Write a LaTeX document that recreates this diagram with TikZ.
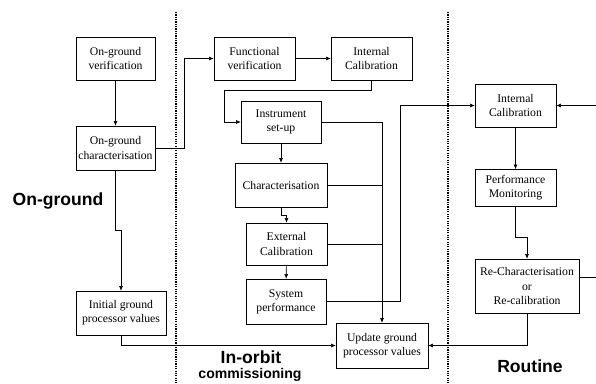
\documentclass[tikz,border=0pt]{standalone}
\usepackage{fontspec}
\setmainfont{Liberation Serif}
\newfontfamily\headfont{Liberation Sans}
\usetikzlibrary{arrows.meta}

\begin{document}
\begin{tikzpicture}[x=0.03cm,y=-0.03cm,
        box/.style={draw,line width=0.5pt,align=center,inner sep=1pt,
            font=\fontsize{10}{12}\selectfont,
            minimum width=2.43cm,minimum height=1.29cm},
        link/.style={line width=0.5pt,-{Latex[length=4pt,width=3.5pt]}},
        wire/.style={line width=0.5pt},
        phase/.style={font=\headfont\bfseries\fontsize{15}{18}\selectfont},
        divider/.style={line width=1pt,densely dotted}]
            \useasboundingbox (0,0) rectangle (596,383);

            %phase dividers
            \draw[divider] (176,12) -- (176,383);
            \draw[divider] (448,12) -- (448,383);

            %on-ground
            \node[box,minimum width=2.37cm] (ogv) at (115.5,58.5) {On-ground\\verification};
            \node[box,minimum width=2.37cm,minimum height=1.32cm] (ogc) at (115.5,148) {On-ground\\characterisation};
            \node[box,minimum width=2.7cm,minimum height=1.32cm] (igp) at (121,313) {Initial ground\\processor values};

            %in-orbit commissioning
            \node[box] (fv) at (254.5,58.5) {Functional\\verification};
            \node[box] (ic1) at (371.5,58.5) {Internal\\Calibration};
            \node[box,minimum width=2.4cm,minimum height=1.26cm] (isu) at (281,122) {Instrument\\set-up};
            \node[box,minimum width=2.76cm,minimum height=1.32cm] (chr) at (281,185) {Characterisation};
            \node[box,minimum height=1.26cm] (ext) at (286.5,244) {External\\Calibration};
            \node[box,minimum width=2.4cm,minimum height=1.35cm] (sys) at (286,301.5) {System\\performance};
            \node[box,minimum width=2.76cm,minimum height=1.35cm] (upd) at (382,345.5) {Update ground\\processor values};

            %routine
            \node[box] (ic2) at (515.5,105.5) {Internal\\Calibration};
            \node[box,minimum height=1.11cm] (pm) at (515.5,188) {Performance\\Monitoring};
            \node[box,minimum width=3.12cm,minimum height=1.62cm] (rc) at (527,286) {Re-Characterisation\\or\\Re-calibration};
            \coordinate (loopin) at (596,105.5);

            %labels
            \node[phase] (lbground) at (58,201) {On-ground};
            \node[phase] (lborbit) at (251,357) {In-orbit};
            \node[phase,font=\headfont\bfseries\fontsize{12}{14}\selectfont] (lbcomm) at (250,375) {commissioning};
            \node[phase] (lbroutine) at (530,366) {Routine};

            %connectors
            \draw[link] (ogv) -- (ogc);
            \draw[link] (ogc.east) -- ++(29,0) |- (fv.west);
            \draw[link] (ogc.south) -- ++(0,60) -| (igp.north);
            \draw[link] (igp.south) |- (upd.west);
            \draw[link] (fv) -- (ic1);
            \draw[link] (ic1.south) -- ++(0,10) -- ++(-147,0) |- (isu.west);
            \draw[link] (isu) -- (chr);
            \draw[link] (chr.south) -- ++(0,8) -| (ext.north);
            \draw[link] (ext) -- (sys);
            \draw[link] (isu.east) -| (upd.north);
            \draw[wire] (chr.east) -- (chr.east -| upd.north);
            \draw[wire] (ext.east) -- (ext.east -| upd.north);
            \draw[link] (sys.east) -- ++(74,0) |- (ic2.west);
            \draw[link] (ic2) -- (pm);
            \draw[link] (pm.south) -- ++(0,30) -| (rc.north);
            \draw[link] (rc.south) |- (upd.east);
            \draw[wire] ([yshift=0.27cm]rc.east) -- ++(17,0);
            \draw[link] (loopin) -- (ic2.east);
\end{tikzpicture}
\end{document}
